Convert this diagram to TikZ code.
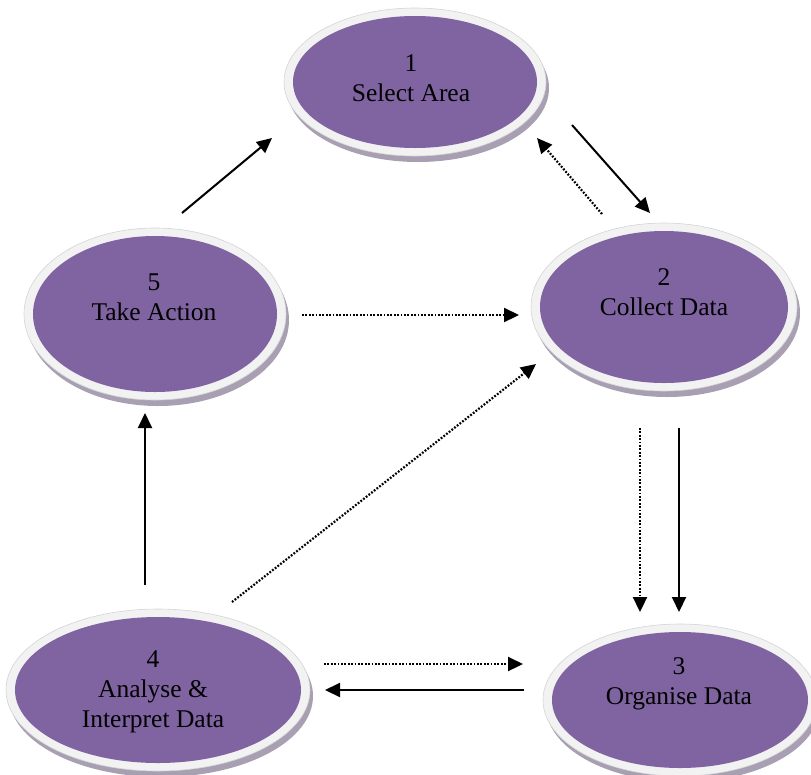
\documentclass[tikz,border=0pt]{standalone}
\usepackage{fontspec}
\setmainfont{Liberation Serif}
\usetikzlibrary{arrows.meta,shapes.geometric}
\definecolor{bubblepurple}{HTML}{8064A2}
\definecolor{rimgray}{HTML}{F2F2F2}
\definecolor{rimedge}{HTML}{D4D4D4}
\definecolor{shadowgray}{HTML}{A8A0B2}
\newcommand\bubbleshape[5]{%
  \fill[shadowgray] (#2+3,#3+6) ellipse [x radius=#4+9, y radius=#5+8];
  \filldraw[fill=rimgray, draw=rimedge, line width=0.6pt] (#2,#3) ellipse [x radius=#4+9, y radius=#5+8];
  \node[bubble, minimum width=2*#4, minimum height=2*#5] (#1) at (#2,#3) {};
}
\begin{document}
\begin{tikzpicture}[x=1pt,y=-1pt,
  bubble/.style={ellipse, fill=bubblepurple, inner sep=0pt, outer sep=0pt},
  bubbletext/.style={align=center, font=\fontsize{25.5}{30}\selectfont, text=black, inner sep=0pt},
  arr/.style={-{Triangle[length=15pt,width=14pt]}, line width=2pt},
  dotarr/.style={arr, line width=2.2pt, dash pattern=on 1.8pt off 1.6pt}]
\useasboundingbox (0,0) rectangle (811,774);

\bubbleshape{b1}{415}{82}{122}{66}
\bubbleshape{b2}{664}{307}{124}{76}
\bubbleshape{b5}{155}{314}{122}{78}
\bubbleshape{b3}{680}{700}{128}{68}
\bubbleshape{b4}{158}{690}{143}{73}

\node[bubbletext] (t1) at (411,78) {1\\Select Area};
\node[bubbletext] (t2) at (664,292) {2\\Collect Data};
\node[bubbletext] (t5) at (154,297) {5\\Take Action};
\node[bubbletext] (t3) at (679,684) {3\\Organise Data};
\node[bubbletext] (t4) at (153,692) {4\\Analyse \&\\Interpret Data};

% connector end points
\coordinate (c51s) at (182,213); \coordinate (c51e) at (272,138);
\coordinate (c12s) at (572,125); \coordinate (c12e) at (650,213);
\coordinate (c21s) at (602,214); \coordinate (c21e) at (537,138);
\coordinate (c52s) at (302,315); \coordinate (c52e) at (519,315);
\coordinate (c42s) at (232,602); \coordinate (c42e) at (536,364);
\coordinate (c23as) at (640,428); \coordinate (c23ae) at (640,612);
\coordinate (c23bs) at (679,428); \coordinate (c23be) at (679,612);
\coordinate (c43s) at (324,664); \coordinate (c43e) at (523,664);
\coordinate (c34s) at (524,690); \coordinate (c34e) at (325,690);
\coordinate (c45s) at (145,585); \coordinate (c45e) at (145,413);

\draw[arr] (c51s) -- (c51e);
\draw[arr] (c12s) -- (c12e);
\draw[dotarr] (c21s) -- (c21e);
\draw[dotarr] (c52s) -- (c52e);
\draw[dotarr] (c42s) -- (c42e);
\draw[dotarr] (c23as) -- (c23ae);
\draw[arr] (c23bs) -- (c23be);
\draw[dotarr] (c43s) -- (c43e);
\draw[arr] (c34s) -- (c34e);
\draw[arr] (c45s) -- (c45e);
\end{tikzpicture}
\end{document}
